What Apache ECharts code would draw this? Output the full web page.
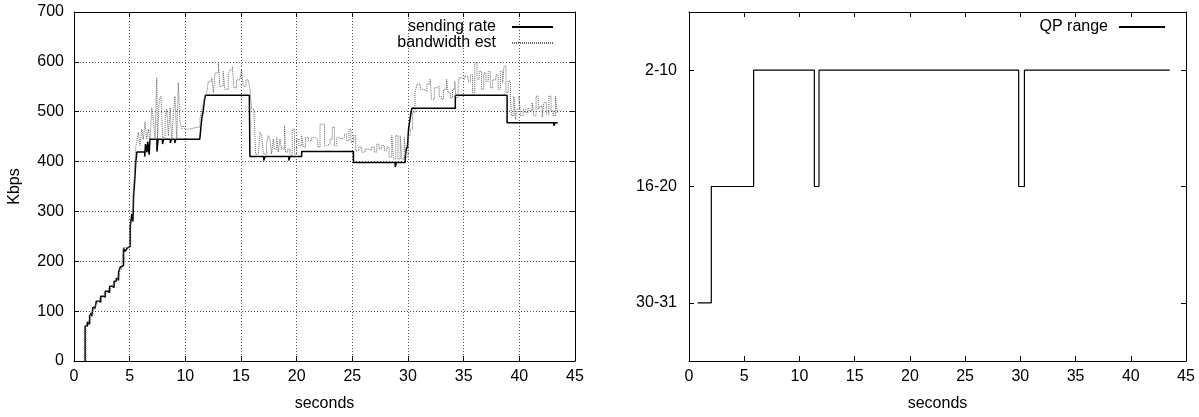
<!DOCTYPE html>
<html><head><meta charset="utf-8">
<script src="https://cdn.jsdelivr.net/npm/echarts@6/dist/echarts.min.js"></script>
<style>html,body{margin:0;padding:0;background:#fff}#c{width:1199px;height:417px}</style>
</head><body><div id="c"></div>
<script>
// [seconds, Kbps]
const sendingRate = [
  [1.0,0],[1.0,70],[1.2,78],[1.3,74],[1.4,90],[1.55,96],[1.6,90],[1.7,108],[1.85,112],[1.9,106],[2.0,120],[2.2,124],[2.3,118],
  [2.4,130],[2.6,134],[2.7,128],[2.8,140],[3.0,142],[3.1,138],[3.2,150],[3.4,152],[3.5,148],[3.6,160],[3.8,166],[3.9,162],
  [4.0,178],[4.15,188],[4.3,192],[4.45,226],[4.6,220],[4.75,226],[4.9,230],[5.05,270],[5.2,295],[5.3,280],[5.35,330],
  [5.45,360],[5.55,400],[5.65,419],[6.35,410],[6.42,435],[6.55,419],[6.62,440],[6.75,414],[6.82,445],[7.45,420],[7.55,445],
  [7.95,435],[8.05,445],[8.65,437],[8.75,445],[9.05,437],[9.15,445],[11.3,445],[11.4,470],[11.5,490],[11.6,500],[11.7,520],
  [11.8,533],[15.75,533],[15.8,410],[17.05,402],[17.15,410],[19.3,402],[19.4,410],[20.45,420],[25.1,398],[26.9,394],
  [27.0,398],[28.85,389],[28.95,398],[29.35,394],[29.45,398],[29.75,410],[29.85,425],[29.95,430],[30.05,465],[30.15,480],
  [30.25,495],[30.35,507],[34.25,533],[38.9,478],[43.1,472],[43.2,478],[43.45,478]
];
const bandwidthEst = [
  [1.08,0],[1.08,72],[1.3,82],[1.5,94],[1.7,104],[1.9,115],[2.1,120],[2.3,127],[2.5,131],[2.7,136],[2.9,140],[3.1,145],
  [3.3,150],[3.5,155],[3.7,162],[3.9,170],[4.1,184],[4.3,195],[4.45,228],[4.9,232],[5.1,280],[5.3,330],[5.45,380],[5.55,430],
  [5.63,439],[5.78,459],[5.93,432],[6.08,465],[6.23,445],[6.38,479],[6.53,445],[6.68,465],[6.83,439],[6.98,508],[7.13,485],
  [7.28,445],[7.43,568],[7.5,445],[7.66,525],[7.81,531],[7.96,448],[8.18,485],[8.33,505],[8.48,452],[8.63,508],[8.78,445],
  [8.93,498],[9.07,531],[9.23,445],[9.37,558],[9.52,479],[9.67,465],[9.82,472],[9.97,465],[10.27,467],[10.72,469],[11.02,465],
  [11.17,469],[11.32,488],[11.45,500],[11.6,515],[11.75,530],[11.92,538],[12.07,561],[12.37,568],[12.52,538],[12.67,578],
  [12.97,598],[13.1,551],[13.4,581],[13.55,545],[13.85,574],[14.0,584],[14.22,591],[14.37,548],[14.6,564],[14.9,561],
  [15.05,584],[15.2,551],[15.45,564],[15.65,561],[15.81,545],[15.96,505],[16.17,498],[16.32,415],[16.56,412],[16.71,459],
  [16.86,452],[17.0,415],[17.3,435],[17.45,452],[17.6,445],[17.75,415],[17.9,445],[18.0,425],[18.2,448],[18.35,419],
  [18.5,445],[18.65,425],[18.9,472],[19.0,419],[19.2,425],[19.4,412],[19.6,465],[19.8,415],[20.0,445],[20.2,432],[20.45,452],
  [20.6,429],[20.8,448],[21.05,442],[21.35,448],[21.65,445],[21.9,429],[22.1,475],[22.3,475],[22.5,432],[22.7,435],[23.0,445],
  [23.2,469],[23.4,432],[23.6,448],[23.8,445],[24.04,448],[24.28,455],[24.49,442],[24.7,465],[24.88,439],[25.1,452],[25.3,422],
  [25.6,429],[25.84,419],[26.14,425],[26.44,422],[26.74,429],[26.98,419],[27.2,435],[27.4,425],[27.64,432],[27.88,422],
  [28.1,429],[28.3,409],[28.54,452],[28.7,405],[28.9,452],[29.1,405],[29.3,452],[29.45,405],[29.66,448],[29.8,409],[30.0,452],
  [30.2,465],[30.4,498],[30.63,538],[30.8,555],[31.1,545],[31.4,541],[31.7,555],[31.98,565],[32.13,525],[32.37,548],[32.6,551],
  [32.8,531],[33.0,525],[33.2,545],[33.45,565],[33.6,538],[33.8,528],[34.0,545],[34.2,561],[34.3,528],[34.5,555],[34.6,568],
  [34.85,565],[35.05,571],[35.4,561],[35.6,574],[35.8,535],[36.0,598],[36.2,565],[36.4,581],[36.6,545],[36.8,578],[37.0,561],
  [37.2,581],[37.4,548],[37.6,564],[37.9,574],[38.1,545],[38.3,581],[38.5,558],[38.62,591],[38.8,538],[39.0,561],[39.2,525],
  [39.3,492],[39.5,531],[39.65,485],[39.8,505],[39.98,531],[40.1,492],[40.35,505],[40.55,498],[40.78,508],[40.95,502],
  [41.15,518],[41.3,492],[41.5,531],[41.7,505],[41.85,511],[42.05,489],[42.2,518],[42.45,495],[42.65,531],[42.85,502],
  [43.05,492],[43.25,531],[43.4,498],[43.45,498]
];
const qpLevels = ['30-31', '16-20', '2-10'];
// [seconds, QP range] change points
const qpRange = [
  [0.78,'30-31'],[2.02,'16-20'],[5.85,'2-10'],[11.35,'16-20'],[11.77,'2-10'],
  [29.85,'16-20'],[30.37,'2-10'],[43.53,'2-10']
];

const FONT = "'Liberation Sans', Arial, Helvetica, sans-serif";
const chart = echarts.init(document.getElementById('c'), null, {renderer: 'canvas'});
const axisLine = {show: true, onZero: false, lineStyle: {color: '#000', width: 1}};
const tickIn = {show: true, inside: true, length: 5, lineStyle: {color: '#000', width: 1}};
const lbl = {color: '#000', fontSize: 16, fontFamily: FONT};
const grid = {show: true, lineStyle: {color: '#555', width: 1, type: [1, 2]}};
function xMain(g, withGrid) {
  return {type: 'value', gridIndex: g, min: 0, max: 45, interval: 5, position: 'bottom',
    axisLine, axisTick: tickIn, axisLabel: Object.assign({margin: 8}, lbl),
    splitLine: withGrid ? grid : {show: false},
    name: 'seconds', nameLocation: 'middle', nameGap: 35, nameTextStyle: lbl};
}
function xMirror(g) {
  return {type: 'value', gridIndex: g, min: 0, max: 45, interval: 5, position: 'top',
    axisLine, axisTick: tickIn, axisLabel: {show: false}, splitLine: {show: false}};
}
const legendCommon = {orient: 'vertical', align: 'right', top: 14, itemHeight: 14, itemGap: 0,
  selectedMode: false, itemStyle: {opacity: 0}};
chart.setOption({
  animation: false,
  textStyle: {fontFamily: FONT},
  grid: [
    {left: 74, right: 624, top: 12, bottom: 53},
    {left: 689, right: 13, top: 12, bottom: 53}
  ],
  legend: [
    Object.assign({data: ['sending rate', 'bandwidth est'], right: 640, itemWidth: 41,
      textStyle: Object.assign({padding: [0, 11, 0, 0]}, lbl)}, legendCommon),
    Object.assign({data: ['QP range'], right: 28, itemWidth: 46,
      textStyle: Object.assign({padding: [0, 6, 0, 0]}, lbl)}, legendCommon)
  ],
  xAxis: [xMain(0, true), xMirror(0), xMain(1, false), xMirror(1)],
  yAxis: [
    {type: 'value', gridIndex: 0, min: 0, max: 700, interval: 100, position: 'left',
     axisLine, axisTick: tickIn, axisLabel: Object.assign({margin: 10}, lbl), splitLine: grid,
     name: 'Kbps', nameLocation: 'middle', nameGap: 51, nameTextStyle: lbl},
    {type: 'value', gridIndex: 0, min: 0, max: 700, interval: 100, position: 'right',
     axisLine, axisTick: tickIn, axisLabel: {show: false}, splitLine: {show: false}},
    {type: 'category', gridIndex: 1, data: qpLevels, position: 'left', boundaryGap: true,
     axisLine, axisTick: Object.assign({alignWithLabel: true}, tickIn),
     axisLabel: Object.assign({margin: 12}, lbl), splitLine: {show: false}},
    {type: 'category', gridIndex: 1, data: qpLevels, position: 'right', boundaryGap: true,
     axisLine, axisTick: Object.assign({alignWithLabel: true}, tickIn),
     axisLabel: {show: false}, splitLine: {show: false}}
  ],
  series: [
    {name: 'sending rate', type: 'line', xAxisIndex: 0, yAxisIndex: 0, step: 'end', symbol: 'none',
     data: sendingRate, lineStyle: {color: '#000', width: 1.5}, itemStyle: {color: '#000'}, z: 2},
    {name: 'bandwidth est', type: 'line', xAxisIndex: 0, yAxisIndex: 0, step: 'end', symbol: 'none',
     data: bandwidthEst, lineStyle: {color: '#666', width: 1, type: [1, 1]}, itemStyle: {color: '#666'}, z: 3},
    // base axis is the category y axis here, so 'start' gives horizontal-then-vertical steps
    {name: 'QP range', type: 'line', xAxisIndex: 2, yAxisIndex: 2, step: 'start', symbol: 'none',
     data: qpRange, lineStyle: {color: '#000', width: 1.2}, itemStyle: {color: '#000'}}
  ]
});
</script>
</body></html>
